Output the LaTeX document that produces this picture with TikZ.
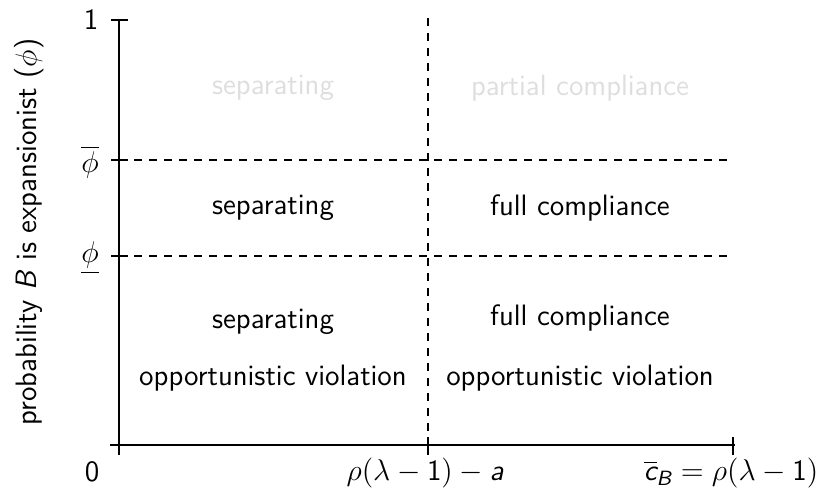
\documentclass[tikz,border=0pt]{standalone}
\usepackage{amsmath}
\renewcommand{\familydefault}{\sfdefault}
\newcommand\sv[1]{\text{\sffamily\itshape #1}}
\newcommand\sn[1]{\text{\sffamily #1}}
\begin{document}
\begin{tikzpicture}[x=0.4pt,y=-0.4pt,
  lbl/.style={inner sep=0pt,font=\sffamily\fontsize{11.8}{14}\selectfont},
  faint/.style={lbl,text=black!13},
  axis/.style={line width=1pt},
  guide/.style={dashed,line width=0.6pt}]
\useasboundingbox (0,0) rectangle (824,489);
% axes
\coordinate (ytop) at (119,20);
\coordinate (xl) at (110,445);
\coordinate (xr) at (735,445);
\coordinate (yb) at (119,455);
\draw[axis] (yb) -- (ytop);
\draw[axis] (xl) -- (xr);
% ticks
\coordinate (t1a) at (111,20); \coordinate (t1b) at (128,20);
\draw[axis] (t1a) -- (t1b);
\coordinate (t2a) at (111,160); \coordinate (t2b) at (128,160);
\draw[axis] (t2a) -- (t2b);
\coordinate (t3a) at (111,256); \coordinate (t3b) at (128,256);
\draw[axis] (t3a) -- (t3b);
\coordinate (x1a) at (428,437); \coordinate (x1b) at (428,455);
\draw[axis] (x1a) -- (x1b);
\coordinate (x2a) at (733,437); \coordinate (x2b) at (733,455);
\draw[axis] (x2a) -- (x2b);
% guides
\coordinate (g1a) at (119,160); \coordinate (g1b) at (730,160);
\coordinate (g2a) at (119,256); \coordinate (g2b) at (730,256);
\coordinate (g3a) at (428,18); \coordinate (g3b) at (428,445);
\draw[guide] (g1a) -- (g1b);
\draw[guide] (g2a) -- (g2b);
\draw[guide] (g3a) -- (g3b);
% axis labels
\node[lbl] (one) at (91,20) {\sn{1}};
\node[lbl] (zero) at (92,472) {\sn{0}};
\node[lbl] (phibar) at (90,162) {$\overline{\phi}$};
\node[lbl] (phiund) at (90,258) {$\underline{\phi}$};
\node[lbl] (xa) at (425,473) {$\rho(\lambda-\sn{1})-\sv{a}$};
\node[lbl] (xb) at (731,473) {$\overline{\sv{c}}_{\sv{B}}=\rho(\lambda-\sn{1})$};
\node[lbl,rotate=90] (ylab) at (29,232) {probability \textit{B} is expansionist ($\phi$)};
% regions
\node[faint] (r1) at (273,88) {separating};
\node[faint] (r2) at (580,88) {partial compliance};
\node[lbl] (r3) at (273,208) {separating};
\node[lbl] (r4) at (580,208) {full compliance};
\node[lbl] (r5) at (273,322) {separating};
\node[lbl] (r6) at (580,318) {full compliance};
\node[lbl] (r7) at (273,378) {opportunistic violation};
\node[lbl] (r8) at (580,378) {opportunistic violation};
\end{tikzpicture}
\end{document}
